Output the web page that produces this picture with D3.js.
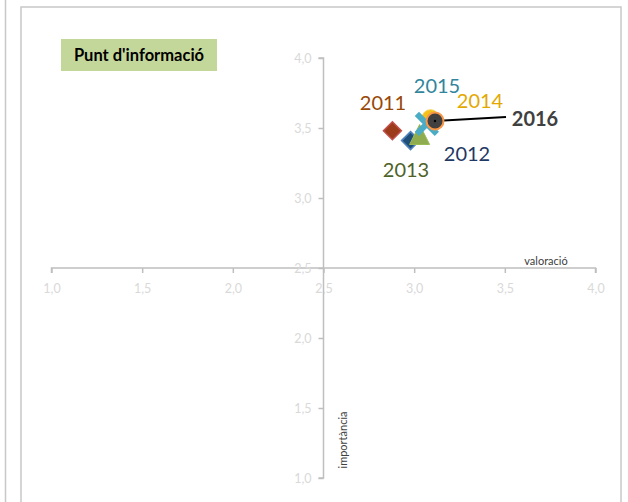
<!DOCTYPE html>
<html><head><meta charset="utf-8">
<script src="https://cdn.jsdelivr.net/npm/d3@7"></script>
<style>body{margin:0;background:#fff;} svg{display:block;font-family:Lato, "Liberation Sans", sans-serif;}</style>
</head><body>
<svg id="c" width="628" height="502"></svg>
<script>
const years = ["2011","2012","2013","2014","2015","2016"];
const valoracio = [2.88, 2.98, 3.03, 3.09, 3.07, 3.115];
const importancia = [3.48, 3.41, 3.45, 3.57, 3.53, 3.55];
const xTicks = [1.0, 1.5, 2.0, 2.5, 3.0, 3.5, 4.0];
const yTicks = [1.0, 1.5, 2.0, 2.5, 3.0, 3.5, 4.0];
const tickLabels = ["1,0","1,5","2,0","2,5","3,0","3,5","4,0"];
const title = "Punt d'informació";
const xTitle = "valoració";
const yTitle = "importància";

const svg = d3.select("#c");
const x = d3.scaleLinear().domain([1,4]).range([51.5,595.5]);
const y = d3.scaleLinear().domain([1,4]).range([478,58]);
const fmt = d => tickLabels[xTicks.indexOf(d)];

// outer frames
svg.append("line").attr("x1",5.5).attr("x2",5.5).attr("y1",0).attr("y2",502).attr("stroke","#c8c8c8").attr("stroke-width",1.5);
svg.append("rect").attr("x",21).attr("y",7).attr("width",600).attr("height",510)
  .attr("fill","#fff").attr("stroke","#c8c8c8").attr("stroke-width",1.5);

// title box
svg.append("rect").attr("x",61).attr("y",39).attr("width",156).attr("height",32).attr("fill","#c4d79b");
svg.append("text").attr("x",139).attr("y",61).attr("text-anchor","middle")
  .attr("font-size",16.5).attr("font-weight","bold").attr("fill","#000").text(title);

// axes
const axisColor = "#bfbfbf", labColor = "#d9d9d9";
const gx = svg.append("g").attr("transform",`translate(0,${y(2.5)})`)
  .call(d3.axisBottom(x).tickValues(xTicks).tickFormat(fmt).tickSize(5).tickPadding(11));
const gy = svg.append("g").attr("transform",`translate(${x(2.5)},0)`)
  .call(d3.axisLeft(y).tickValues(yTicks).tickFormat(fmt).tickSize(5).tickPadding(7));
[gx,gy].forEach(g=>{
  g.select(".domain").attr("stroke",axisColor).attr("stroke-width",1.5);
  g.selectAll(".tick line").attr("stroke",axisColor).attr("stroke-width",1.5);
  g.selectAll(".tick text").attr("fill",labColor).attr("font-size",12.5).attr("font-family","Lato, sans-serif");
});
gx.select(".domain").attr("d",`M${x(1)},5V0H${x(4)}V5`);
gy.select(".domain").attr("d",`M-5,${y(1)}H0V${y(4)}H-5`);

svg.append("text").attr("x",546).attr("y",265).attr("text-anchor","middle").attr("font-size",11).attr("fill","#404040").text(xTitle);
svg.append("text").attr("transform",`translate(347,440) rotate(-90)`).attr("text-anchor","middle").attr("font-size",11).attr("fill","#404040").text(yTitle);

// markers
const P = i => [x(valoracio[i]), y(importancia[i])];
const diamond = (cx,cy,r,fill,stroke) => svg.append("path")
  .attr("d",`M${cx},${cy-r}L${cx+r},${cy}L${cx},${cy+r}L${cx-r},${cy}Z`)
  .attr("fill",fill).attr("stroke",stroke).attr("stroke-width",1.5);
let p;
p = P(0); diamond(p[0],p[1],9,"#9c3b1b","#c0504d");
p = P(1); diamond(p[0],p[1],9,"#1f4e79","#4f81bd");
p = P(2); svg.append("path").attr("d",`M${p[0]},${p[1]-10.5}L${p[0]+10},${p[1]+9.5}L${p[0]-10},${p[1]+9.5}Z`)
  .attr("fill","#8fac4e").attr("stroke","#9bbb59").attr("stroke-width",1);
p = P(3); svg.append("circle").attr("cx",p[0]).attr("cy",p[1]).attr("r",8.5).attr("fill","#f2c21a").attr("stroke","#fad25a").attr("stroke-width",1);
p = P(4);
const xs = 10;
svg.append("path").attr("d",`M${p[0]-xs},${p[1]-xs}L${p[0]+xs},${p[1]+xs}M${p[0]-xs},${p[1]+xs}L${p[0]+xs},${p[1]-xs}`)
  .attr("stroke","#4bacc6").attr("stroke-width",6);
p = P(5);
svg.append("line").attr("x1",p[0]).attr("y1",p[1]).attr("x2",506).attr("y2",117).attr("stroke","#000").attr("stroke-width",2);
svg.append("circle").attr("cx",p[0]).attr("cy",p[1]).attr("r",8.5).attr("fill","#404040").attr("stroke","#f79646").attr("stroke-width",2);
svg.append("circle").attr("cx",p[0]).attr("cy",p[1]).attr("r",1.2).attr("fill","#000");

// labels
const labX = [383, 467, 406, 480, 437, 535];
const labY = [110, 161, 177, 108, 93, 126];
const labColors = ["#984807", "#1f3864", "#4f6228", "#e3a800", "#31859c", "#404040"];
years.forEach((yr,i)=>{
  svg.append("text").attr("x",labX[i]).attr("y",labY[i]).attr("text-anchor","middle")
    .attr("font-size",20).attr("font-weight", i===5?"bold":"normal").attr("fill",labColors[i]).text(yr);
});
</script>
</body></html>
